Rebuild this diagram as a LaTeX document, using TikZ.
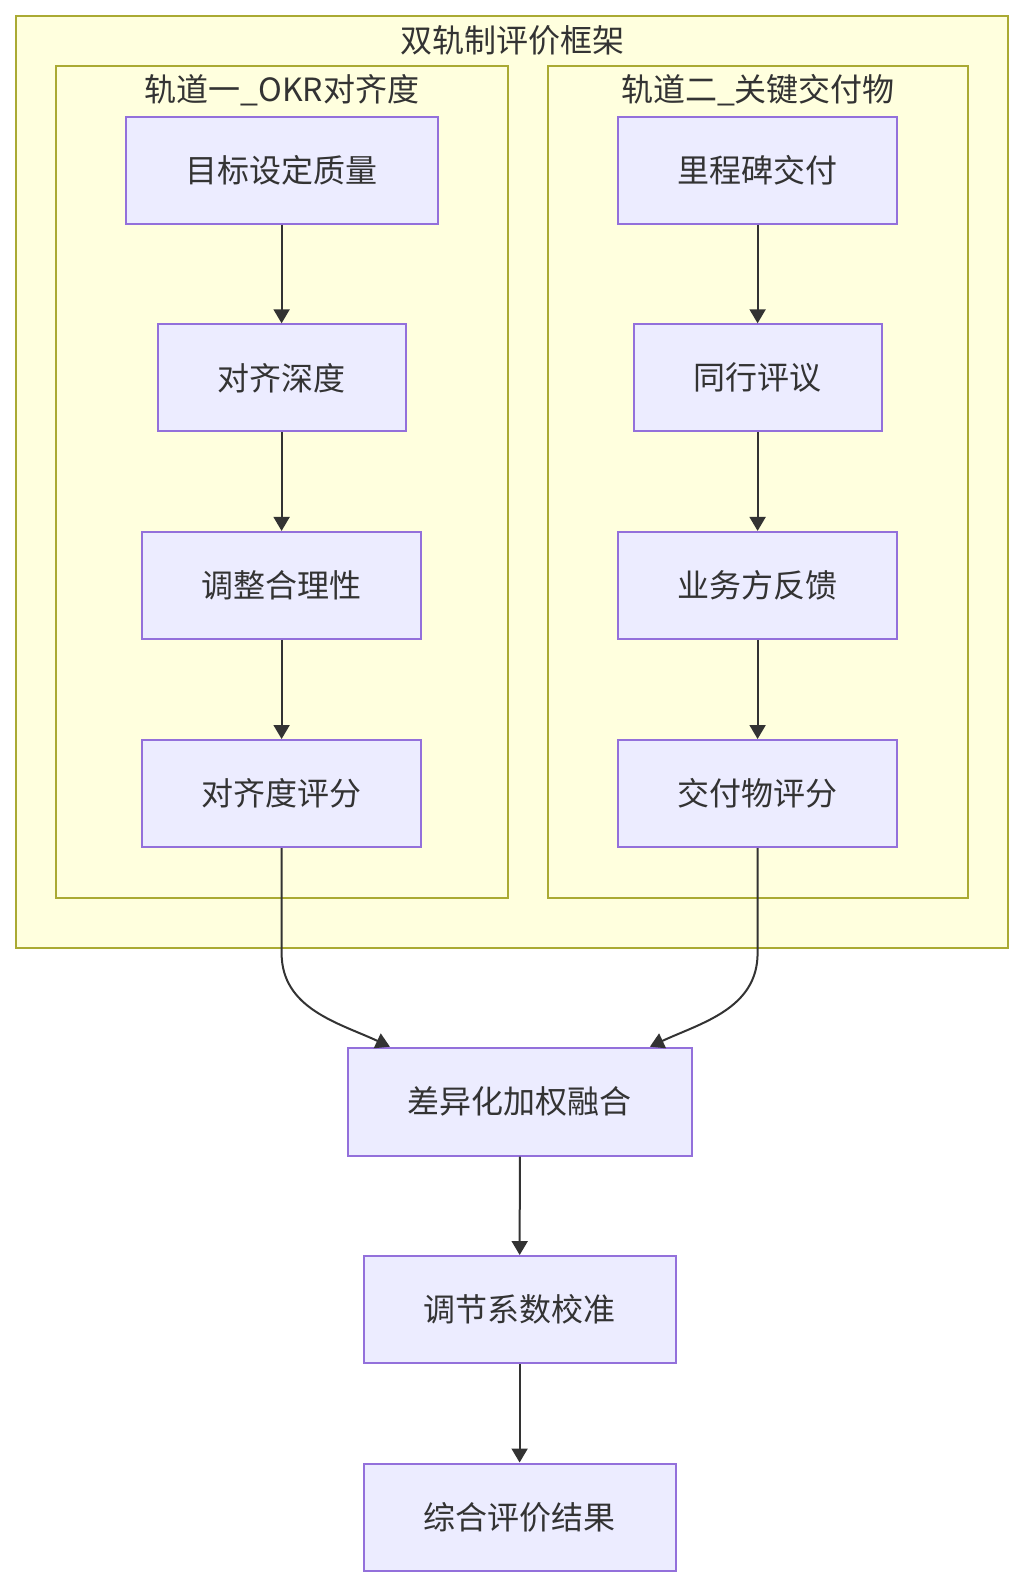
\documentclass[tikz,border=0pt]{standalone}
\usepackage{fontspec}
\setmainfont{Noto Sans CJK SC}
\usetikzlibrary{arrows.meta,calc}
\definecolor{nodefill}{HTML}{ECECFF}
\definecolor{nodeline}{HTML}{9370DB}
\definecolor{framefill}{HTML}{FFFFDE}
\definecolor{frameline}{HTML}{AAAA33}
\definecolor{inkgray}{HTML}{333333}
\begin{document}
\begin{tikzpicture}[x=1pt,y=-1pt]

    \tikzset{
      stage/.style={
        draw=nodeline,
        fill=nodefill,
        line width=2pt,
        text=inkgray,
        font=\fontsize{32}{38}\selectfont,
        inner sep=0pt,
        minimum height=107pt,
      },
      frame/.style={draw=frameline, fill=framefill, line width=2pt},
      caption/.style={text=inkgray, font=\fontsize{32}{38}\selectfont, inner sep=0pt},
      flow/.style={draw=inkgray, line width=2pt, -{Triangle[length=14pt,width=16pt]}},
    }
    \useasboundingbox (0,0) rectangle (1024,1588);
    \fill[white] (0,0) rectangle (1024,1588);

	% frames
	\draw[frame] (16,16) rectangle (1008,948);
	\draw[frame] (56,66) rectangle (508,898);
	\draw[frame] (548,66) rectangle (968,898);

	\node[caption] (title) at (512,40) {双轨制评价框架};
	\node[caption] (trackA) at (282,90) {轨道一\_OKR对齐度};
	\node[caption] (trackB) at (758,90) {轨道二\_关键交付物};

	% track one
	\node[stage, minimum width=312pt]   (goal)  at (281.6,170.2) {目标设定质量};
	\node[stage, minimum width=248pt]   (depth) at (281.6,377.8) {对齐深度};
	\node[stage, minimum width=279.5pt] (adjust) at (281.6,585.4) {调整合理性};
	\node[stage, minimum width=279.5pt] (alignscore) at (281.6,793.5) {对齐度评分};

	% track two
	\node[stage, minimum width=279.5pt] (milestone) at (757.6,170.2) {里程碑交付};
	\node[stage, minimum width=248pt]   (peer) at (757.6,377.8) {同行评议};
	\node[stage, minimum width=279.5pt] (business) at (757.6,585.4) {业务方反馈};
	\node[stage, minimum width=279.5pt] (delivscore) at (757.6,793.5) {交付物评分};

	% merge
	\node[stage, minimum width=344pt, minimum height=108pt] (fuse) at (519.9,1101.7) {差异化加权融合};
	\node[stage, minimum width=312pt] (calib) at (519.6,1309.5) {调节系数校准};
	\node[stage, minimum width=312pt] (result) at (519.6,1517) {综合评价结果};

	\draw[flow] (goal) -- (depth);
	\draw[flow] (depth) -- (adjust);
	\draw[flow] (adjust) -- (alignscore);
	\draw[flow] (milestone) -- (peer);
	\draw[flow] (peer) -- (business);
	\draw[flow] (business) -- (delivscore);

	\draw[flow] (alignscore.south) -- ++(0,105) to[out=-90, in=155] ($(fuse.north)+(-130,0)$);
	\draw[flow] (delivscore.south) -- ++(0,105) to[out=-90, in=25] ($(fuse.north)+(130,0)$);

	\draw[flow] (fuse) -- (calib);
	\draw[flow] (calib) -- (result);

\end{tikzpicture}
\end{document}
